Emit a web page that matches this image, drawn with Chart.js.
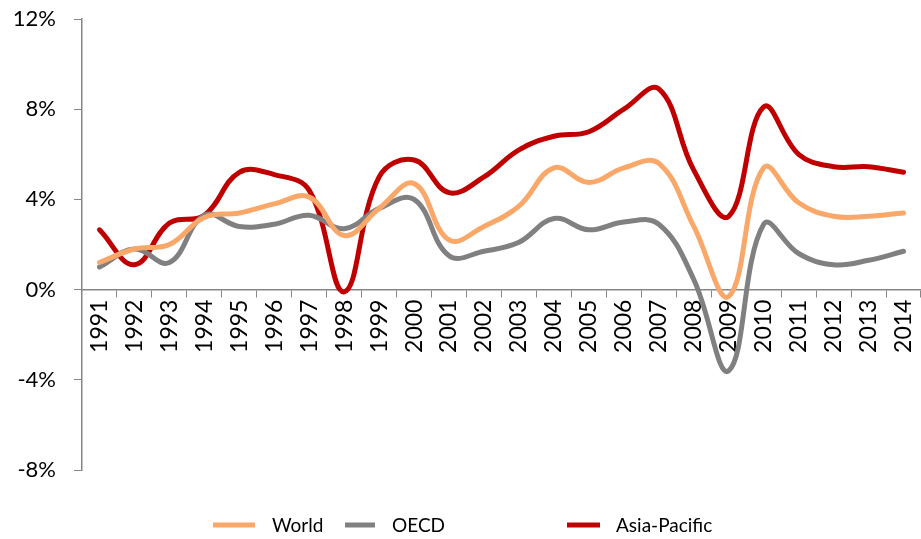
<!DOCTYPE html>
<html>
<head>
<meta charset="utf-8">
<script src="https://cdn.jsdelivr.net/npm/chart.js@4.4.1/dist/chart.umd.min.js"></script>
<style>
  html, body { margin: 0; padding: 0; background: #fff; }
  #wrap { position: relative; width: 921px; height: 539px; }
</style>
</head>
<body>
<div id="wrap"><canvas id="c" width="921" height="539"></canvas></div>
<script>
const years = ['1991','1992','1993','1994','1995','1996','1997','1998','1999','2000','2001','2002','2003','2004','2005','2006','2007','2008','2009','2010','2011','2012','2013','2014'];
const world = [1.2, 1.8, 2.0, 3.2, 3.4, 3.8, 4.1, 2.4, 3.6, 4.7, 2.2, 2.8, 3.7, 5.4, 4.75, 5.4, 5.6, 2.8, -0.3, 5.4, 3.85, 3.25, 3.25, 3.4];
const oecd = [1.0, 1.8, 1.2, 3.3, 2.8, 2.9, 3.3, 2.7, 3.6, 4.0, 1.5, 1.7, 2.1, 3.15, 2.65, 3.0, 2.9, 0.45, -3.6, 2.9, 1.6, 1.1, 1.3, 1.7];
const asiaPacific = [2.65, 1.1, 2.95, 3.3, 5.2, 5.1, 4.4, -0.1, 5.0, 5.75, 4.3, 5.0, 6.2, 6.8, 7.0, 8.0, 8.9, 5.3, 3.25, 8.1, 6.0, 5.45, 5.45, 5.2];
const yTicks = [-8, -4, 0, 4, 8, 12];
const seriesNames = ['World', 'OECD', 'Asia-Pacific'];
const seriesColors = ['#F9A86A', '#808080', '#C00000'];

const FONT = 'Lato, "Open Sans", sans-serif';

const legendPlugin = {
  id: 'customLegend',
  afterDraw(chart) {
    const ctx = chart.ctx;
    const items = [
      { lx: 213, lw: 42, tx: 272 },
      { lx: 345, lw: 30, tx: 392 },
      { lx: 567, lw: 33, tx: 616 }
    ];
    ctx.save();
    chart.data.datasets.forEach((ds, i) => {
      const it = items[i];
      ctx.strokeStyle = ds.borderColor;
      ctx.lineWidth = 5;
      ctx.lineCap = 'butt';
      ctx.beginPath();
      ctx.moveTo(it.lx, 525);
      ctx.lineTo(it.lx + it.lw, 525);
      ctx.stroke();
      ctx.fillStyle = '#000';
      ctx.font = '19px ' + FONT;
      ctx.textBaseline = 'middle';
      ctx.textAlign = 'left';
      ctx.fillText(ds.label, it.tx, 526);
    });
    ctx.restore();
  }
};

new Chart(document.getElementById('c'), {
  type: 'line',
  data: {
    labels: years,
    datasets: [
      { label: seriesNames[0], data: world, borderColor: seriesColors[0] },
      { label: seriesNames[1], data: oecd, borderColor: seriesColors[1] },
      { label: seriesNames[2], data: asiaPacific, borderColor: seriesColors[2] }
    ].map(d => Object.assign(d, {
      borderWidth: 5,
      tension: 0.4,
      pointRadius: 0,
      fill: false,
      borderCapStyle: 'round',
      borderJoinStyle: 'round'
    }))
  },
  options: {
    responsive: false,
    animation: false,
    devicePixelRatio: 1,
    layout: { padding: { top: 19, right: 0, bottom: 69, left: 0 } },
    plugins: { legend: { display: false }, tooltip: { enabled: false } },
    scales: {
      x: {
        type: 'category',
        position: { y: 0 },
        offset: true,
        grid: { display: true, offset: true, drawOnChartArea: false, drawTicks: true, tickLength: 7, color: '#868686' },
        border: { display: true, color: '#868686', width: 1.5 },
        ticks: {
          minRotation: 90, maxRotation: 90, autoSkip: false, padding: 3,
          color: '#000', font: { family: FONT, size: 23 }
        },
        afterFit(scale) { scale.height = 0; scale.paddingLeft = 0; scale.paddingRight = 0; }
      },
      y: {
        min: -8, max: 12,
        afterBuildTicks(scale) { scale.ticks = yTicks.map(v => ({ value: v })); },
        grid: { display: true, drawOnChartArea: false, drawTicks: true, tickLength: 8, color: '#868686' },
        border: { display: true, color: '#868686', width: 1.5 },
        ticks: {
          padding: 18, color: '#000', font: { family: FONT, size: 22 },
          callback: v => v + '%'
        },
        afterFit(scale) { scale.width = 82; scale.paddingTop = 0; scale.paddingBottom = 0; }
      }
    }
  },
  plugins: [legendPlugin]
});
</script>
</body>
</html>
